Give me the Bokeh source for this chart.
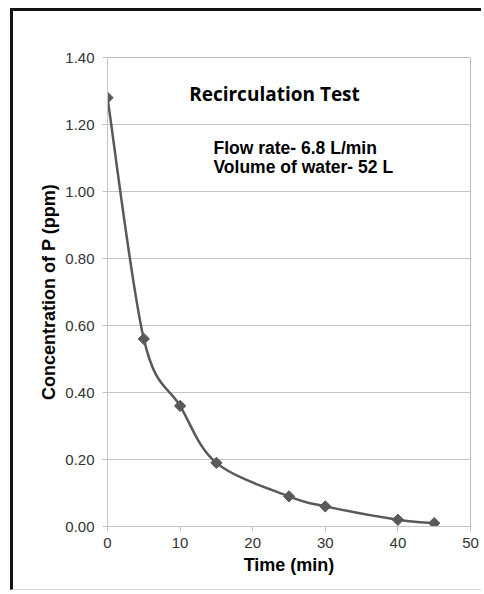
import numpy as np
from bokeh.plotting import figure
from bokeh.models import Range1d, Label, Span, FixedTicker, PrintfTickFormatter
from bokeh.embed import file_html
from bokeh.resources import INLINE

# ---- data ----
time_min = [0, 5, 10, 15, 25, 30, 40, 45]
conc_ppm = [1.28, 0.56, 0.36, 0.19, 0.09, 0.06, 0.02, 0.01]
x_ticks = [0, 10, 20, 30, 40, 50]
y_ticks = [0.0, 0.2, 0.4, 0.6, 0.8, 1.0, 1.2, 1.4]
title_text = "Recirculation Test"
note_lines = ["Flow rate- 6.8 L/min", "Volume of water- 52 L"]
x_label = "Time (min)"
y_label = "Concentration of P (ppm)"

LINE = "#595959"
GRID = "#c4c4c4"
TICKTXT = "#333333"

p = figure(width=471, height=582, output_backend="svg", toolbar_location=None,
           x_range=Range1d(0, 50), y_range=Range1d(0, 1.4),
           min_border_left=94, min_border_right=14, min_border_top=46, min_border_bottom=67)
p.styles = {"margin-left": "10px", "margin-top": "8px",
            "border-left": "3px solid #141414", "border-top": "3px solid #141414",
            "border-bottom": "1px solid #d9d9d9"}
p.outline_line_color = None
p.background_fill_color = "white"
p.border_fill_color = "white"

# grid
p.xgrid.grid_line_color = None
p.ygrid.grid_line_color = GRID
p.ygrid.grid_line_width = 1

# axes
p.xaxis.ticker = FixedTicker(ticks=x_ticks)
p.yaxis.ticker = FixedTicker(ticks=y_ticks)
p.yaxis.formatter = PrintfTickFormatter(format="%.2f")
for ax in (p.xaxis[0], p.yaxis[0]):
    ax.axis_line_color = GRID
    ax.axis_line_width = 1
    ax.major_tick_line_color = GRID
    ax.major_tick_in = 0
    ax.major_tick_out = 5
    ax.minor_tick_line_color = None
    ax.major_label_text_font = "Liberation Sans"
    ax.major_label_text_font_size = "15px"
    ax.major_label_text_color = TICKTXT
    ax.axis_label_text_font = "Liberation Sans"
    ax.axis_label_text_font_style = "bold"
    ax.axis_label_text_font_size = "18px"
    ax.axis_label_text_color = "black"
p.xaxis.axis_label = x_label
p.yaxis.axis_label = y_label
p.xaxis.major_label_standoff = 6
p.yaxis.major_label_standoff = 8
p.xaxis.axis_label_standoff = 4
p.yaxis.axis_label_standoff = 3

# top / right plot-area border
p.add_layout(Span(location=1.4, dimension="width", line_color="#7f7f7f", line_width=1))
p.add_layout(Span(location=50, dimension="height", line_color="#7f7f7f", line_width=1))

# smoothed line via bezier segments (Catmull-Rom style control points)
x = np.array(time_min, dtype=float)
y = np.array(conc_ppm, dtype=float)
n = len(x)
x0, y0, x1, y1, cx0, cy0, cx1, cy1 = [], [], [], [], [], [], [], []
for i in range(n - 1):
    im = max(i - 1, 0)
    ip = min(i + 2, n - 1)
    x0.append(x[i]); y0.append(y[i]); x1.append(x[i + 1]); y1.append(y[i + 1])
    cx0.append(x[i] + (x[i + 1] - x[im]) / 6.0)
    cy0.append(y[i] + (y[i + 1] - y[im]) / 6.0)
    cx1.append(x[i + 1] - (x[ip] - x[i]) / 6.0)
    cy1.append(y[i + 1] - (y[ip] - y[i]) / 6.0)
p.bezier(x0=x0, y0=y0, x1=x1, y1=y1, cx0=cx0, cy0=cy0, cx1=cx1, cy1=cy1,
         line_color=LINE, line_width=2.5)
p.scatter(time_min, conc_ppm, marker="square", angle=np.pi / 4, size=8,
          fill_color=LINE, line_color=LINE)

# texts
p.add_layout(Label(x=23.0, y=1.29, text=title_text, text_align="center", text_baseline="middle",
                   text_font="Open Sans", text_font_style="bold", text_font_size="19px",
                   text_color="black"))
p.add_layout(Label(x=14.6, y=1.131, text=note_lines[0], text_align="left", text_baseline="middle",
                   text_font="Liberation Sans", text_font_style="bold", text_font_size="17.5px",
                   text_color="black"))
p.add_layout(Label(x=14.6, y=1.072, text=note_lines[1], text_align="left", text_baseline="middle",
                   text_font="Liberation Sans", text_font_style="bold", text_font_size="17.5px",
                   text_color="black"))

open("out.html", "w").write(file_html(p, INLINE))
